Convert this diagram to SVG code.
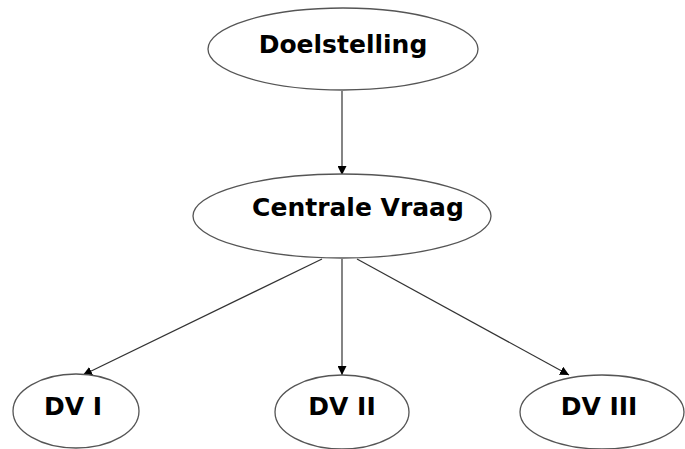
<svg xmlns="http://www.w3.org/2000/svg" width="685" height="449" viewBox="0 0 685 449">
<style>
.n ellipse{fill:#fff;stroke:#555;stroke-width:1.3}
.n text{font-family:Verdana,"DejaVu Sans",sans-serif;font-weight:bold;font-size:25px;fill:#000;text-anchor:middle}
.c line{stroke:#333;stroke-width:1.2;marker-end:url(#ah)}
</style>
<defs>
<marker id="ah" viewBox="0 0 10 10" refX="10" refY="5" markerWidth="9" markerHeight="9" markerUnits="userSpaceOnUse" orient="auto">
<path d="M0,0L10,5L0,10z" fill="#000"/>
</marker>
</defs>
<rect width="685" height="449" fill="#fff"/>
<g class="c">
<line x1="342" y1="91" x2="342" y2="175"/>
<line x1="322" y1="259" x2="83" y2="375"/>
<line x1="342" y1="259" x2="342" y2="375"/>
<line x1="357" y1="259" x2="569" y2="375"/>
</g>
<g class="n" id="doelstelling">
<ellipse cx="343" cy="49" rx="135" ry="41"/>
<text x="343" y="53">Doelstelling</text>
</g>
<g class="n" id="centrale-vraag">
<ellipse cx="342" cy="216" rx="149" ry="42"/>
<text x="358" y="216">Centrale Vraag</text>
</g>
<g class="n" id="dv1">
<ellipse cx="76" cy="411" rx="63" ry="37"/>
<text x="73" y="415">DV I</text>
</g>
<g class="n" id="dv2">
<ellipse cx="342" cy="412" rx="67" ry="37"/>
<text x="342" y="415">DV II</text>
</g>
<g class="n" id="dv3">
<ellipse cx="602" cy="412" rx="82" ry="37"/>
<text x="599" y="415">DV III</text>
</g>
</svg>
